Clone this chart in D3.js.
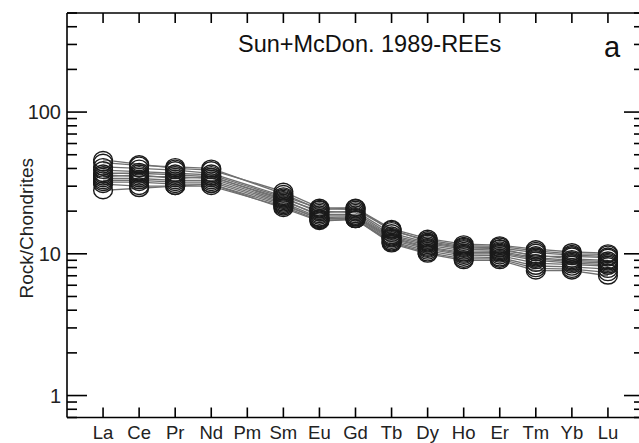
<!DOCTYPE html>
<html>
<head>
<meta charset="utf-8">
<script src="https://cdn.jsdelivr.net/npm/d3@7/dist/d3.min.js"></script>
<style>
  html, body { margin: 0; padding: 0; background: #fff; }
  svg { display: block; font-family: "Liberation Sans", Arial, Helvetica, sans-serif; }
</style>
</head>
<body>
<svg id="chart" width="639" height="443"></svg>
<script>
// Rare earth elements in order (Pm has no analyses)
const elements = ["La", "Ce", "Pr", "Nd", "Pm", "Sm", "Eu", "Gd", "Tb", "Dy", "Ho", "Er", "Tm", "Yb", "Lu"];

// Chondrite-normalised REE patterns, one array per sample (null = not analysed)
const sample01 = [46, 43, 40, 39, null, 27.5, 21.2, 21.0, 15.0, 12.8, 11.7, 11.5, 10.8, 10.3, 10.1];
const sample02 = [44, 42, 41, 40, null, 26.5, 20.5, 21.2, 14.5, 12.5, 11.4, 11.3, 10.5, 10.0, 9.9];
const sample03 = [41, 40, 39, 37, null, 25.5, 20.8, 20.5, 14.8, 12.2, 11.2, 11.0, 10.2, 9.8, 9.6];
const sample04 = [39, 38, 37, 36, null, 25.0, 19.5, 20.0, 14.0, 12.0, 11.0, 10.9, 9.6, 9.6, 9.4];
const sample05 = [37, 37, 36, 35, null, 24.5, 20.0, 19.5, 13.5, 11.8, 10.8, 10.6, 9.8, 9.2, 9.0];
const sample06 = [36, 35, 35, 34, null, 23.5, 19.0, 19.0, 13.2, 11.5, 10.5, 10.4, 9.4, 9.0, 8.8];
const sample07 = [35, 36, 34, 35, null, 24.0, 18.5, 18.5, 13.0, 11.2, 10.2, 10.2, 9.2, 8.8, 8.6];
const sample08 = [34, 34, 33, 33, null, 23.0, 18.0, 18.2, 12.8, 11.0, 10.0, 10.0, 9.0, 8.6, 8.4];
const sample09 = [33, 33, 32, 32, null, 22.5, 17.5, 18.0, 12.5, 10.8, 9.8, 9.7, 8.6, 8.4, 8.2];
const sample10 = [32, 32, 31, 31, null, 22.0, 17.8, 17.6, 12.2, 10.5, 9.5, 9.4, 8.2, 8.1, 7.8];
const sample11 = [31, 30, 30, 30, null, 21.5, 17.2, 17.5, 12.0, 10.2, 9.2, 9.2, 7.9, 7.8, 7.4];
const sample12 = [28, 29, 30, 31, null, 21.0, 17.0, 17.5, 11.8, 10.0, 9.0, 9.0, 7.6, 7.6, 7.0];

const samples = [sample01, sample02, sample03, sample04, sample05, sample06,
                 sample07, sample08, sample09, sample10, sample11, sample12];

// Labelled decades on the y axis
const yLabels = [1, 10, 100];

const titleText = "Sun+McDon. 1989-REEs";
const panelLetter = "a";
const yTitle = "Rock/Chondrites";

const svg = d3.select("#chart");

const frame = { left: 67, right: 644, top: 13, bottom: 417.5 };

const x = d3.scaleLinear().domain([0, elements.length + 1]).range([frame.left, frame.right]);
const y = d3.scaleLog().domain([0.7, 500]).range([frame.bottom, frame.top]);

// Minor tick values: 2..9 within each decade, clipped to the domain
const minorTicks = [];
[0.1, 1, 10, 100].forEach(d => {
  for (let k = 2; k <= 9; k++) {
    const v = +(d * k).toPrecision(3);
    if (v >= 0.7 && v <= 500) minorTicks.push(v);
  }
});

const axisColor = "#000";
const g = svg.append("g");

// Pattern lines (Pm gap is bridged directly Nd -> Sm)
const line = d3.line()
  .x(d => x(d.i + 1))
  .y(d => y(d.v));

g.selectAll("path.pattern")
  .data(samples)
  .join("path")
  .attr("class", "pattern")
  .attr("fill", "none")
  .attr("stroke", "#707070")
  .attr("stroke-width", 1.3)
  .attr("d", s => line(s.map((v, i) => ({ v, i })).filter(d => d.v != null)));

// Open symbols
samples.forEach(s => {
  g.selectAll(null)
    .data(s.map((v, i) => ({ v, i })).filter(d => d.v != null))
    .join("ellipse")
    .attr("cx", d => x(d.i + 1))
    .attr("cy", d => y(d.v))
    .attr("rx", 9.4)
    .attr("ry", 8.3)
    .attr("fill", "none")
    .attr("stroke", "#1a1a1a")
    .attr("stroke-width", 1.4);
});

// Frame
const axes = svg.append("g").attr("stroke", axisColor).attr("stroke-width", 1.6);
axes.append("line").attr("x1", frame.left).attr("x2", frame.left).attr("y1", frame.top).attr("y2", frame.bottom);
axes.append("line").attr("x1", frame.right).attr("x2", frame.right).attr("y1", frame.top).attr("y2", frame.bottom);
axes.append("line").attr("x1", frame.left).attr("x2", frame.right).attr("y1", frame.top).attr("y2", frame.top);
axes.append("line").attr("x1", frame.left).attr("x2", frame.right).attr("y1", frame.bottom).attr("y2", frame.bottom);

// Y ticks on both sides, pointing inwards
[[frame.left, 1], [frame.right, -1]].forEach(([x0, dir]) => {
  axes.selectAll(null).data(yLabels).join("line")
    .attr("x1", x0).attr("x2", x0 + dir * 20)
    .attr("y1", d => y(d)).attr("y2", d => y(d));
  axes.selectAll(null).data(minorTicks).join("line")
    .attr("x1", x0).attr("x2", x0 + dir * 10)
    .attr("y1", d => y(d)).attr("y2", d => y(d));
});

// X ticks on top and bottom, pointing inwards
const idx = elements.map((e, i) => i + 1);
axes.selectAll(null).data(idx).join("line")
  .attr("x1", d => x(d)).attr("x2", d => x(d))
  .attr("y1", frame.bottom).attr("y2", frame.bottom - 10);
axes.selectAll(null).data(idx).join("line")
  .attr("x1", d => x(d)).attr("x2", d => x(d))
  .attr("y1", frame.top).attr("y2", frame.top + 10);

// Tick labels
svg.append("g").selectAll("text").data(yLabels).join("text")
  .attr("x", frame.left - 6)
  .attr("y", d => y(d) + 7)
  .attr("text-anchor", "end")
  .attr("font-size", 20)
  .attr("fill", "#222")
  .text(d => d);

svg.append("g").selectAll("text").data(elements).join("text")
  .attr("x", (d, i) => x(i + 1))
  .attr("y", 438.5)
  .attr("text-anchor", "middle")
  .attr("font-size", 18.5)
  .attr("fill", "#222")
  .text(d => d);

// Axis title
svg.append("text")
  .attr("transform", "translate(33,158) rotate(-90)")
  .attr("text-anchor", "end")
  .attr("font-size", 19)
  .attr("fill", "#222")
  .text(yTitle);

// Normalisation label and panel letter
svg.append("text")
  .attr("x", 238).attr("y", 51.5)
  .attr("font-size", 23.5)
  .attr("fill", "#111")
  .text(titleText);

svg.append("text")
  .attr("x", 604).attr("y", 56.5)
  .attr("font-size", 29)
  .attr("fill", "#111")
  .text(panelLetter);
</script>
</body>
</html>
